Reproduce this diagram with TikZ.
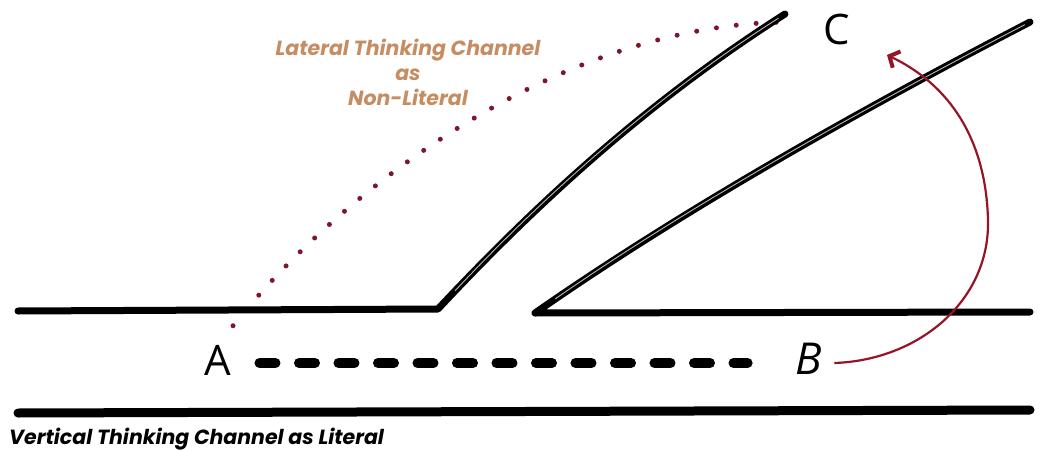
\documentclass[tikz,border=0pt]{standalone}
\usepackage{fontspec}
\setmainfont{Poppins}
\newfontfamily\letterfont{Open Sans}
\usetikzlibrary{arrows.meta, positioning, calc}

\definecolor{dotred}{RGB}{128,20,42}
\definecolor{arrowred}{RGB}{150,20,40}
\definecolor{labeltan}{RGB}{198,140,98}

\begin{document}
\begin{tikzpicture}[x=1pt, y=-1pt,
    wall/.style={line width=7pt, line cap=round, line join=round},
    streak/.style={line width=0.9pt, gray!55, line cap=round},
    letter/.style={inner sep=0pt, font=\letterfont\fontsize{42}{42}\selectfont},
    blobs/.style={line width=10pt, line cap=round, dash pattern=on 16pt off 23.5pt},
    lateral/.style={dotred, line width=5pt, line cap=round, dash pattern=on 0pt off 20pt},
    jump/.style={arrowred, line width=2.2pt, -{Straight Barb[length=8pt, width=18pt, line width=4pt]}}]
  \useasboundingbox (0,0) rectangle (1052,452);

  % letters
  \node[letter] (A) at (218,360) {A};
  \node[letter, font=\letterfont\itshape\fontsize{44}{44}\selectfont] (B) at (809,359) {B};
  \node[letter] (C) at (837,29) {C};

  % lateral path, drawn first so the wall hides a dot
  \draw[lateral] ([xshift=15pt, yshift=19pt]A.north) .. controls (341,190) and (560,22) .. ([xshift=-31pt, yshift=7pt]C.west);

  % channel walls
  \draw[wall] (18,311) -- (438,309) .. controls (540,200) and (650,100) .. (785,14);
  \draw[wall] (1030,22) .. controls (870,105) and (690,205) .. (535,313) -- (1030,312);
  \draw[wall, line width=9pt] (18,413) -- (1030,410);
  \draw[streak, shorten <=25pt, shorten >=8pt] (438,309) .. controls (540,200) and (650,100) .. (785,14);
  \draw[streak, shorten <=6pt, shorten >=25pt] (1030,22) .. controls (870,105) and (690,205) .. (535,313);

  % vertical path
  \draw[blobs] ([xshift=28pt, yshift=-3pt]A.east) -- ([xshift=-48pt, yshift=-4pt]B.west);

  % jump from B up to C
  \draw[jump] ([xshift=12pt, yshift=-4pt]B.east) .. controls (920,360) and (990,300) .. (988,220)
    .. controls (986,140) and (950,85) .. (887,55);

  % captions
  \node[align=center, text=labeltan, font=\bfseries\itshape\fontsize{20.5}{25}\selectfont] (latlabel) at (408,72)
    {Lateral Thinking Channel\\as\\Non-Literal};
  \node[anchor=west, inner sep=0pt, font=\bfseries\itshape\fontsize{20.5}{20}\selectfont] (vertlabel) at (9,439)
    {Vertical Thinking Channel as Literal};
\end{tikzpicture}
\end{document}
